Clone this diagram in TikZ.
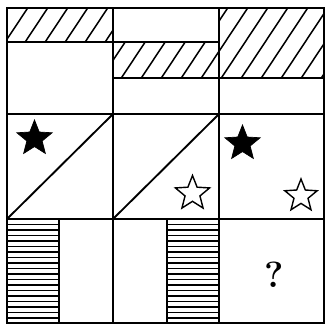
\documentclass[tikz,border=0pt]{standalone}
\usetikzlibrary{shapes.geometric}

\tikzset{
  frame/.style={line width=1.6pt},
  hatchline/.style={line width=1.3pt},
  starshape/.style={star,star points=5,star point ratio=2.3,inner sep=0pt,line join=miter},
  blackstar/.style={starshape,draw=black,fill=black,line width=0.6pt},
  whitestar/.style={starshape,draw=black,fill=white,line width=1.2pt}
}

\begin{document}
\begin{tikzpicture}[x=0.03cm,y=-0.03cm]
\useasboundingbox (0,0) rectangle (326,327);
% diagonal hatching, row 1
\begin{scope}
\clip (7,8) rectangle (113,42) (113,42) rectangle (219,78) (219,8) rectangle (324,78);
\foreach \s in {-60,-40,...,340}
  \draw[hatchline] (\s,80) -- (\s+53,0);
\end{scope}
% horizontal hatching, row 3
\begin{scope}
\clip (7,219) rectangle (59,323) (167,219) rectangle (219,323);
\foreach \h in {224.5,230,...,323}
  \draw[line width=1pt] (0,\h) -- (326,\h);
\end{scope}
% grid
\draw[frame] (7,8) rectangle (324,323);
\draw[frame] (7,114) -- (324,114);
\draw[frame] (7,219) -- (324,219);
\draw[frame] (113,8) -- (113,323);
\draw[frame] (219,8) -- (219,323);
% row 1
\draw[frame] (7,42) -- (219,42);
\draw[frame] (113,78) -- (324,78);
% row 2
\draw[frame] (7,219) -- (113,114);
\draw[frame] (113,219) -- (219,114);
\node[blackstar,minimum size=37*0.03cm] (bstarA) at (34.5,138.5) {};
\node[whitestar,minimum size=36*0.03cm] (wstarB) at (192.5,193.5) {};
\node[blackstar,minimum size=37*0.03cm] (bstarC) at (242.5,143.5) {};
\node[whitestar,minimum size=34*0.03cm] (wstarC) at (301,196) {};
% row 3
\draw[frame] (59,219) -- (59,323);
\draw[frame] (167,219) -- (167,323);
\node[font=\Huge\bfseries,scale=1.25] (ask) at (274,275) {?};
\end{tikzpicture}
\end{document}
